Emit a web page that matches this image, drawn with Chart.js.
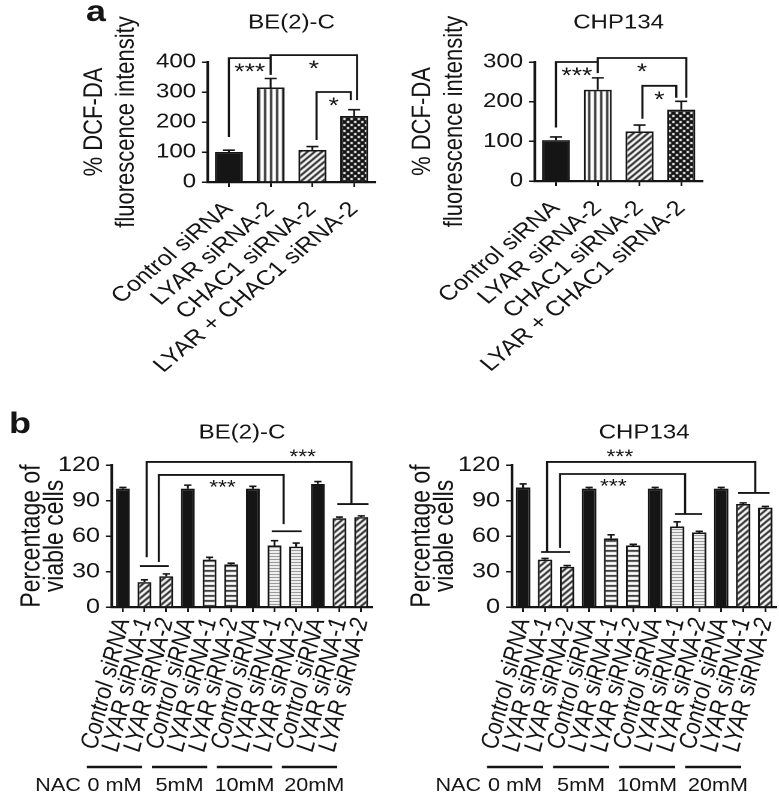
<!DOCTYPE html>
<html>
<head>
<meta charset="utf-8">
<script src="https://cdn.jsdelivr.net/npm/chart.js@4.4.1/dist/chart.umd.min.js"></script>
<style>
  html, body { margin: 0; padding: 0; background: #fff; }
  #wrap { position: relative; width: 779px; height: 794px; overflow: hidden; }
  canvas { position: absolute; }
</style>
</head>
<body>
<div id="wrap">
  <canvas id="aBe2c"></canvas>
  <canvas id="aChp"></canvas>
  <canvas id="bBe2c"></canvas>
  <canvas id="bChp"></canvas>
</div>
<script>
// ---- panel a: DCF-DA fluorescence ----
const aLabels = ['Control siRNA', 'LYAR siRNA-2', 'CHAC1 siRNA-2', 'LYAR + CHAC1 siRNA-2'];
const aBe2cValues = [100, 315, 107, 220];
const aBe2cErrors = [6, 30, 11, 21];
const aChpValues = [103, 230, 125, 180];
const aChpErrors = [8, 30, 16, 21];
const aBe2cTicks = [0, 100, 200, 300, 400];
const aChpTicks = [0, 100, 200, 300];

// significance brackets (x in bar index, y in data units)
const aBe2cSig = [
  { from: 0, to: 1, top: 413, footL: 150, footR: 357, text: '***' },
  { from: 1, to: 3.07, top: 423, footL: 357, footR: 273, text: '*' },
  { from: 2.1, to: 2.92, top: 300, footL: 140, footR: 273, text: '*' }
];
const aChpSig = [
  { from: 0, to: 1, top: 300, footL: 135, footR: 272, text: '***' },
  { from: 1, to: 3.12, top: 310, footL: 272, footR: 210, text: '*' },
  { from: 2.07, to: 2.88, top: 240, footL: 157, footR: 210, text: '*' }
];

// ---- panel b: viability with NAC ----
const bLabels = [
  'Control siRNA', 'LYAR siRNA-1', 'LYAR siRNA-2',
  'Control siRNA', 'LYAR siRNA-1', 'LYAR siRNA-2',
  'Control siRNA', 'LYAR siRNA-1', 'LYAR siRNA-2',
  'Control siRNA', 'LYAR siRNA-1', 'LYAR siRNA-2'
];
const bGroups = ['0 mM', '5mM', '10mM', '20mM'];
const bBe2cValues = [100, 21, 26, 100, 40, 36, 100, 52, 51, 104, 75, 76];
const bBe2cErrors = [1, 2, 2, 3, 2, 1, 2, 4, 3, 2, 1, 1];
const bChpValues = [101, 40, 34, 100, 58, 52, 100, 68, 63, 100, 87, 84];
const bChpErrors = [3, 1, 1, 1, 3, 1, 1, 4, 1, 1, 1, 1];
const bTicks = [0, 30, 60, 90, 120];

const bBe2cBars = [{ from: 0.78, to: 2.12, at: 34.6 }, { from: 6.87, to: 8.25, at: 64 }, { from: 9.9, to: 11.34, at: 87 }];
const bBe2cSig = [
  { from: 1.1, to: 10.55, top: 122.6, footL: 42, footR: 87, text: '***', textAt: 8.3, above: true },
  { from: 1.66, to: 7.42, top: 111.6, footL: 38, footR: 70, text: '***', textAt: 4.6 }
];
const bChpBars = [{ from: 0.82, to: 2.14, at: 46.5 }, { from: 6.9, to: 8.14, at: 78.6 }, { from: 9.77, to: 11.2, at: 96.4 }];
const bChpSig = [
  { from: 1.09, to: 10.55, top: 122.6, footL: 47, footR: 96.4, text: '***', textAt: 4.4, above: true },
  { from: 1.68, to: 7.36, top: 112.4, footL: 50, footR: 78.6, text: '***', textAt: 4.1 }
];

const INK = '#151515';
const FONT = '"Liberation Sans", Arial, sans-serif';
const SX = 1.2; // the figure is stretched sideways, text included
Chart.defaults.font.family = FONT;
Chart.defaults.color = INK;

function tile(kind) {
  const t = document.createElement('canvas');
  const g = t.getContext('2d');
  const n = { vert: 5, diag: 6, dots: 6, hbar: 5, hfine: 3 }[kind];
  t.width = n; t.height = n;
  g.fillStyle = kind === 'dots' ? INK : '#fff';
  g.fillRect(0, 0, n, n);
  g.fillStyle = kind === 'hfine' ? '#7a7a7a' : INK;
  if (kind === 'vert') g.fillRect(0, 0, 1.7, n);
  if (kind === 'hbar') g.fillRect(0, 0, n, 1.7);
  if (kind === 'hfine') g.fillRect(0, 0, n, 1);
  if (kind === 'dots') {
    g.fillStyle = '#fff';
    g.fillRect(1, 1, 2, 2);
    g.fillRect(4, 4, 2, 2);
  }
  if (kind === 'diag') {
    g.strokeStyle = INK; g.lineWidth = 1.8;
    g.beginPath();
    g.moveTo(-1, n + 1); g.lineTo(n + 1, -1);
    g.moveTo(-1, 1); g.lineTo(1, -1);
    g.moveTo(n - 1, n + 1); g.lineTo(n + 1, n - 1);
    g.stroke();
  }
  return g.createPattern(t, 'repeat');
}
const fill = k => k === 'solid' ? INK : tile(k);

function buildChart(o) {
  const c = document.getElementById(o.id);
  const [bl, bt, bw, bh] = o.box;
  c.width = Math.round(bw / SX);
  c.height = bh;
  Object.assign(c.style, { left: bl + 'px', top: bt + 'px', width: bw + 'px', height: bh + 'px' });
  const toX = v => (v - bl) / SX;
  const left = toX(o.area[0]), right = toX(o.area[1]);
  const top = o.area[2] - bt, bottom = o.area[3] - bt;
  const titlePadTop = o.titleY - bt - 12;
  const yLine = o.yTitle.size * o.yTitle.lh;

  const marks = {
    id: 'marks',
    afterDatasetsDraw(chart) {
      const ctx = chart.ctx, y = chart.scales.y;
      ctx.save();
      ctx.strokeStyle = INK; ctx.lineWidth = 1.6;
      ctx.beginPath();
      chart.getDatasetMeta(0).data.forEach((bar, i) => {
        const t = y.getPixelForValue(o.values[i] + o.errors[i]);
        ctx.moveTo(bar.x, bar.y); ctx.lineTo(bar.x, t);
        ctx.moveTo(bar.x - o.cap, t); ctx.lineTo(bar.x + o.cap, t);
      });
      ctx.stroke();
      ctx.restore();
    },
    afterDraw(chart) {
      const ctx = chart.ctx, x = chart.scales.x, y = chart.scales.y;
      const px = v => x.getPixelForValue(v), py = v => y.getPixelForValue(v);
      ctx.save();
      ctx.strokeStyle = INK; ctx.fillStyle = INK; ctx.lineWidth = 1.8;
      ctx.beginPath();
      (o.bars || []).forEach(b => { ctx.moveTo(px(b.from), py(b.at)); ctx.lineTo(px(b.to), py(b.at)); });
      o.sig.forEach(s => {
        ctx.moveTo(px(s.from), py(s.footL));
        ctx.lineTo(px(s.from), py(s.top));
        ctx.lineTo(px(s.to), py(s.top));
        ctx.lineTo(px(s.to), py(s.footR));
      });
      ctx.stroke();
      ctx.textAlign = 'center';
      o.sig.forEach(s => {
        const cx = s.textAt !== undefined ? px(s.textAt) : (px(s.from) + px(s.to)) / 2;
        ctx.font = `${o.starSize}px ${FONT}`;
        if (s.above) { ctx.textBaseline = 'alphabetic'; ctx.fillText(s.text, cx, py(s.top) + 1); }
        else { ctx.textBaseline = 'top'; ctx.fillText(s.text, cx, py(s.top) + 4); }
      });
      if (o.letter) {
        ctx.font = `bold 30px ${FONT}`;
        ctx.textAlign = 'left'; ctx.textBaseline = 'alphabetic';
        ctx.fillText(o.letter, toX(o.letterAt[0]), o.letterAt[1] - bt);
      }
      if (o.groups) {
        const ly = 767 - bt, ty = 791 - bt;
        ctx.lineWidth = 2.5;
        ctx.font = `18px ${FONT}`;
        ctx.textBaseline = 'alphabetic';
        o.groups.forEach((g, i) => {
          const x1 = px(i * 3) - 36 / SX, x2 = px(i * 3 + 2) - 24 / SX;
          ctx.beginPath(); ctx.moveTo(x1, ly); ctx.lineTo(x2, ly); ctx.stroke();
          ctx.textAlign = 'center';
          ctx.fillText(g, (x1 + x2) / 2 + (i === 3 ? 4 : 0), ty);
          if (i === 0) { ctx.textAlign = 'right'; ctx.fillText('NAC', x1 - 5, ty); }
        });
      }
      ctx.restore();
    }
  };

  return new Chart(c, {
    type: 'bar',
    data: {
      labels: o.labels,
      datasets: [{
        data: o.values,
        backgroundColor: o.fills.map(fill),
        borderColor: INK,
        borderWidth: 1.6,
        barPercentage: o.barPct,
        categoryPercentage: 1
      }]
    },
    options: {
      responsive: false,
      animation: false,
      devicePixelRatio: 2,
      layout: { padding: { left: 0, right: c.width - right, top: 0, bottom: 0 } },
      plugins: {
        legend: { display: false },
        tooltip: { enabled: false },
        title: {
          display: true, text: o.title, fullSize: false, color: INK,
          font: { size: 20, weight: 'normal', lineHeight: 1.2 },
          padding: { top: titlePadTop, bottom: top - titlePadTop - 24 }
        }
      },
      scales: {
        x: {
          offset: true,
          grid: { display: true, offset: false, drawOnChartArea: false, drawTicks: true, tickLength: 5, color: INK, lineWidth: 1.5 },
          border: { display: true, color: INK, width: 2.2 },
          ticks: {
            autoSkip: false, maxRotation: o.rot, minRotation: o.rot, padding: o.xPad, color: INK,
            font: { size: 21, style: o.italic ? 'italic' : 'normal' }
          },
          afterFit: s => { s.height = bh - bottom; s.paddingLeft = 0; s.paddingRight = 0; }
        },
        y: {
          min: o.ticks[0], max: o.ticks[o.ticks.length - 1],
          afterBuildTicks: s => { s.ticks = o.ticks.map(v => ({ value: v })); },
          grid: { display: true, drawOnChartArea: false, drawTicks: true, tickLength: 5, color: INK, lineWidth: 1.5 },
          border: { display: true, color: INK, width: 2.2 },
          ticks: { padding: 5, color: INK, font: { size: o.tickSize } },
          title: {
            display: true, text: o.yTitle.text, color: INK,
            font: { size: o.yTitle.size, lineHeight: o.yTitle.lh },
            padding: { top: toX(o.yTitle.x) - yLine / 2, bottom: 0 }
          },
          afterFit: s => { s.width = left; }
        }
      }
    },
    plugins: [marks]
  });
}

const aFills = ['solid', 'vert', 'diag', 'dots'];
const bFills = ['solid', 'diag', 'diag', 'solid', 'hbar', 'hbar', 'solid', 'hfine', 'hfine', 'solid', 'diag', 'diag'];
const aTitle = { text: ['% DCF-DA', 'fluorescence intensity'], size: 22, lh: 1.2 };
const bTitle = { text: ['Percentage of', 'viable cells'], size: 23, lh: 0.85 };

buildChart({
  id: 'aBe2c', box: [0, 0, 390, 385], area: [208, 375, 62, 182], title: 'BE(2)-C', titleY: 23,
  labels: aLabels, values: aBe2cValues, errors: aBe2cErrors, ticks: aBe2cTicks, fills: aFills,
  barPct: 0.67, rot: 45, xPad: 10, italic: false, cap: 5, starSize: 22, tickSize: 20,
  yTitle: Object.assign({ x: 95 }, aTitle), sig: aBe2cSig, letter: 'a', letterAt: [86, 21]
});
buildChart({
  id: 'aChp', box: [390, 0, 389, 385], area: [535, 702, 62, 181], title: 'CHP134', titleY: 23,
  labels: aLabels, values: aChpValues, errors: aChpErrors, ticks: aChpTicks, fills: aFills,
  barPct: 0.67, rot: 45, xPad: 10, italic: false, cap: 5, starSize: 22, tickSize: 20,
  yTitle: Object.assign({ x: 423 }, aTitle), sig: aChpSig
});
buildChart({
  id: 'bBe2c', box: [0, 385, 390, 409], area: [112, 372, 465, 607], title: 'BE(2)-C', titleY: 433,
  labels: bLabels, values: bBe2cValues, errors: bBe2cErrors, ticks: bTicks, fills: bFills,
  barPct: 0.64, rot: 78, xPad: 4, italic: true, cap: 3, starSize: 19, tickSize: 21,
  yTitle: Object.assign({ x: 32 }, bTitle), sig: bBe2cSig, bars: bBe2cBars,
  letter: 'b', letterAt: [9, 433], groups: bGroups
});
buildChart({
  id: 'bChp', box: [390, 385, 389, 409], area: [512, 776, 465, 607], title: 'CHP134', titleY: 433,
  labels: bLabels, values: bChpValues, errors: bChpErrors, ticks: bTicks, fills: bFills,
  barPct: 0.66, rot: 78, xPad: 4, italic: true, cap: 3, starSize: 19, tickSize: 21,
  yTitle: Object.assign({ x: 422 }, bTitle), sig: bChpSig, bars: bChpBars, groups: bGroups
});
</script>
</body>
</html>
